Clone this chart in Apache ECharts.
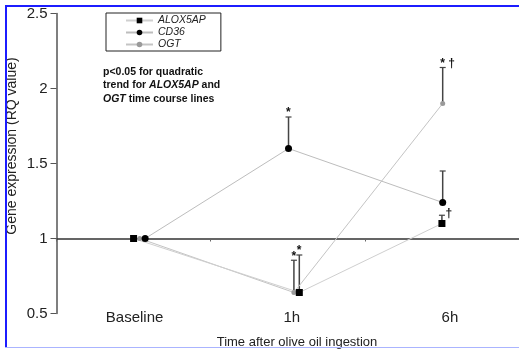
<!DOCTYPE html>
<html>
<head>
<meta charset="utf-8">
<script src="https://cdn.jsdelivr.net/npm/echarts@6/dist/echarts.min.js"></script>
<style>html,body{margin:0;padding:0;background:#fff}#c{width:519px;height:349px}</style>
</head>
<body>
<div id="c"></div>
<script>
// ---- data ----
const categories = ['Baseline', '1h', '6h'];
const alox5ap = [1.0, 0.64, 1.10];
const alox5apUpper = [null, 0.89, 1.155];
const alox5apMarks = ['', '*', '†'];
const cd36 = [1.0, 1.60, 1.24];
const cd36Upper = [null, 1.81, 1.45];
const cd36Marks = ['', '*', ''];
const ogt = [1.0, 0.64, 1.90];
const ogtUpper = [null, 0.855, 2.14];
const ogtMarks = ['', '*', '* †'];
const yMin = 0.5, yMax = 2.5, yStep = 0.5;

// ---- layout / style (dodge of overlapping markers, in category units) ----
const dodge = { ALOX5AP: [0, 0.075, 0], CD36: [0.075, 0.005, 0.005], OGT: [0.04, 0.04, 0.005] };
const labelShift = [2, 8, 16];
const FONT = 'Liberation Sans, Arial, sans-serif';

function lineSeries(name, values, symbol, size, symColor, lineColor) {
  return {
    type: 'line', name, xAxisIndex: 2, yAxisIndex: 0,
    data: values.map((v, i) => [i + dodge[name][i], v]),
    symbol, symbolSize: size, showAllSymbol: true,
    itemStyle: { color: symColor, borderWidth: 0 },
    lineStyle: { color: lineColor, width: 1 },
    emphasis: { disabled: true }, z: 3
  };
}
function errSeries(name, values, upper, marks) {
  const items = [], mk = [];
  values.forEach((v, i) => {
    if (upper[i] != null) { items.push([i + dodge[name][i], v, upper[i]]); mk.push(marks[i]); }
  });
  return {
    type: 'custom', name: name + '_err', xAxisIndex: 2, yAxisIndex: 0, z: 2,
    data: items, silent: true,
    renderItem: function (params, api) {
      const x = api.value(0), y = api.value(1), u = api.value(2);
      const p0 = api.coord([x, y]), p1 = api.coord([x, u]);
      const ch = [
        { type: 'line', shape: { x1: p0[0], y1: p0[1], x2: p1[0], y2: p1[1] }, style: { stroke: '#444', lineWidth: 1.5 } },
        { type: 'line', shape: { x1: p1[0] - 3, y1: p1[1], x2: p1[0] + 3, y2: p1[1] }, style: { stroke: '#444', lineWidth: 1.2 } }
      ];
      const m = mk[params.dataIndex];
      if (m) {
        if (m[0] === '*') {
          ch.push({ type: 'text', x: p1[0] - 2.5, y: p1[1] - 4, style: { text: m, font: 'bold 12px ' + FONT, fill: '#111', align: 'left', verticalAlign: 'middle' } });
        } else {
          ch.push({ type: 'text', x: p1[0] + 3.5, y: p1[1] - 2, style: { text: m, font: 'bold 12px ' + FONT, fill: '#111', align: 'left', verticalAlign: 'middle' } });
        }
      }
      return { type: 'group', children: ch };
    }
  };
}

const labelRich = {};
categories.forEach((c, i) => {
  labelRich['c' + i] = { fontSize: 15, color: '#222', fontFamily: FONT, padding: [0, 0, 0, labelShift[i]] };
});

const chart = echarts.init(document.getElementById('c'), null, { renderer: 'canvas' });
chart.setOption({
  animation: false,
  backgroundColor: '#fff',
  textStyle: { fontFamily: FONT },
  grid: { left: 56.5, right: -6.5, top: 13.5, bottom: 35.5 },
  legend: {
    orient: 'vertical', left: 106, top: 13,
    data: ['ALOX5AP', 'CD36', 'OGT'],
    itemWidth: 27, itemHeight: 7, itemGap: 1,
    padding: [2, 15, 1, 19],
    borderColor: '#222', borderWidth: 1,
    textStyle: { fontStyle: 'italic', fontSize: 10.5, color: '#222', fontFamily: FONT }
  },
  xAxis: [
    { type: 'category', data: categories, position: 'bottom',
      axisLine: { show: false, onZero: false }, axisTick: { show: false }, splitLine: { show: false },
      axisLabel: { margin: -3, fontSize: 15, color: '#222', fontFamily: FONT,
        formatter: function (v, i) { return '{c' + i + '|' + v + '}'; }, rich: labelRich } },
    { type: 'category', data: categories, position: 'bottom', offset: -75,
      axisLine: { show: true, onZero: false, lineStyle: { color: '#333', width: 1.5 } },
      axisTick: { show: true, length: 3, lineStyle: { color: '#666', width: 1 } },
      axisLabel: { show: false }, splitLine: { show: false } },
    { type: 'value', min: -0.5, max: 2.5, position: 'bottom', show: false,
      axisLine: { onZero: false }, splitLine: { show: false } }
  ],
  yAxis: {
    type: 'value', min: yMin, max: yMax, interval: yStep, position: 'left',
    axisLine: { show: true, onZero: false, lineStyle: { color: '#555', width: 1.5 } },
    axisTick: { show: true, length: 6, lineStyle: { color: '#555', width: 1 } },
    axisLabel: { margin: 9, fontSize: 15, color: '#222', fontFamily: FONT },
    splitLine: { show: false }
  },
  graphic: [
    { type: 'text', x: 12, y: 146, rotation: Math.PI / 2,
      style: { text: 'Gene expression (RQ value)', font: '14px ' + FONT, fill: '#222', align: 'center', verticalAlign: 'middle' } },
    { type: 'text', x: 297, y: 342,
      style: { text: 'Time after olive oil ingestion', font: '13px ' + FONT, fill: '#222', align: 'center', verticalAlign: 'middle' } },
    { type: 'text', left: 103, top: 65,
      style: {
        text: 'p<0.05 for quadratic\ntrend for {i|ALOX5AP} and\n{i|OGT} time course lines',
        font: 'bold 10.5px ' + FONT, fill: '#111', lineHeight: 13.5,
        rich: { i: { fontStyle: 'italic', fontWeight: 'bold', fontSize: 10.5, fontFamily: FONT, fill: '#111', lineHeight: 13.5 } }
      } },
    { type: 'rect', z: 100, shape: { x: 5, y: 5, width: 514, height: 2 }, style: { fill: '#1c1cff' } },
    { type: 'rect', z: 100, shape: { x: 5, y: 5, width: 2, height: 343 }, style: { fill: '#1c1cff' } },
    { type: 'rect', z: 100, shape: { x: 5, y: 347, width: 514, height: 1 }, style: { fill: '#aab4ff' } }
  ],
  series: [
    errSeries('ALOX5AP', alox5ap, alox5apUpper, alox5apMarks),
    errSeries('CD36', cd36, cd36Upper, cd36Marks),
    errSeries('OGT', ogt, ogtUpper, ogtMarks),
    lineSeries('OGT', ogt, 'circle', 5, '#9a9a9a', '#c4c4c4'),
    lineSeries('CD36', cd36, 'circle', 7, '#000', '#bdbdbd'),
    lineSeries('ALOX5AP', alox5ap, 'rect', 7, '#000', '#cfcfcf')
  ]
});
</script>
</body>
</html>
